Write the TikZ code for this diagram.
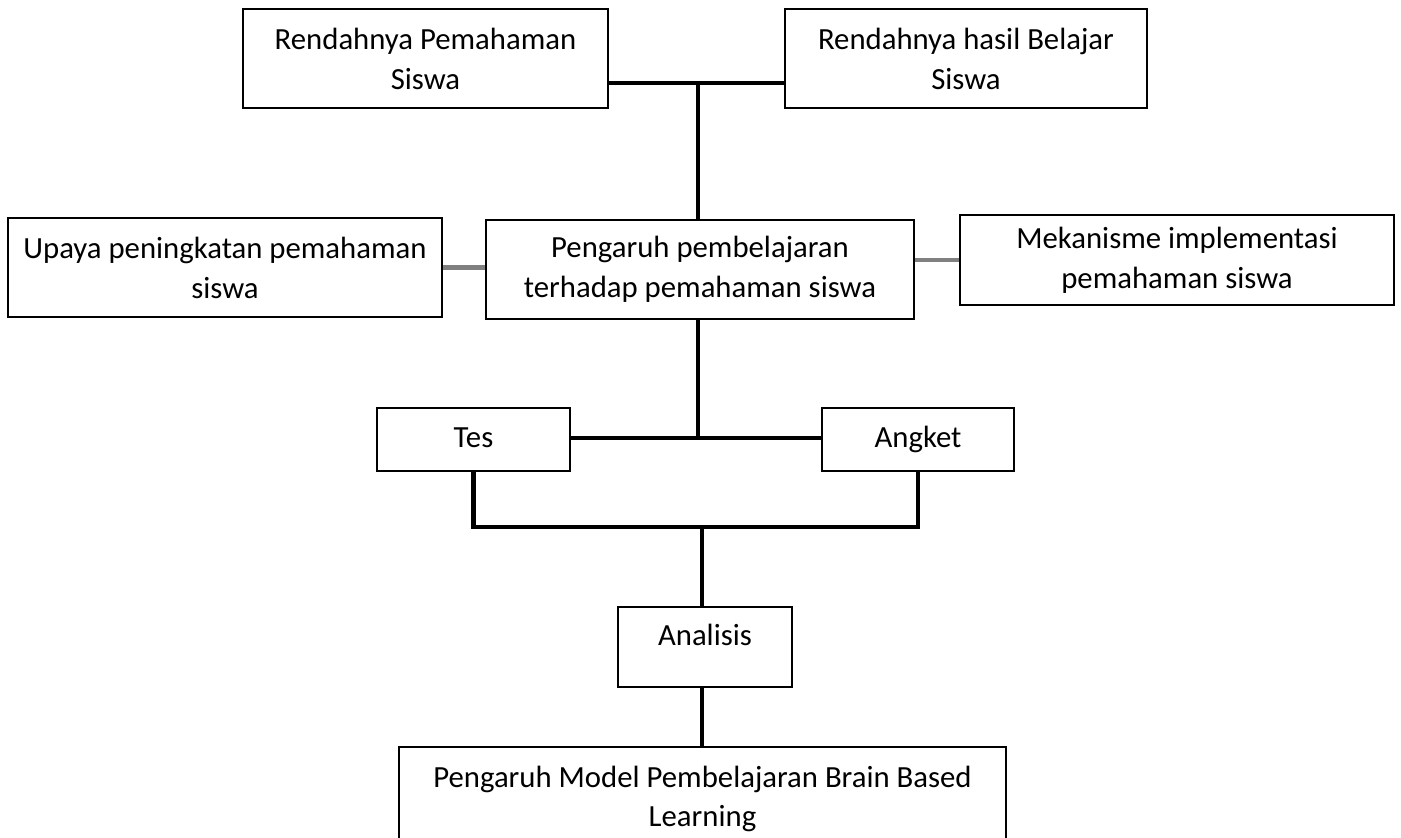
\documentclass[tikz,border=0pt]{standalone}
\usepackage{fontspec}
\setmainfont{Carlito}
\usetikzlibrary{positioning, calc}
\definecolor{lineGray}{gray}{0.5}

\begin{document}
\begin{tikzpicture}[x=0.02cm, y=-0.02cm,
    box/.style={draw, line width=1.1pt, align=center, inner sep=0pt,
        font=\fontsize{17.5}{22.7}\selectfont},
    smallbox/.style={box, minimum height=1.26cm, text height=0.9em, text depth=0pt},
    link/.style={line width=2.3pt},
    sidelink/.style={line width=2.6pt, lineGray}]
    \useasboundingbox (0,0) rectangle (1401,838);

    % top row
    \node[box, minimum width=7.3cm, minimum height=1.98cm] (rendahPaham) at (425.5,58.5) {Rendahnya Pemahaman\\Siswa};
    \node[box, minimum width=7.24cm, minimum height=1.98cm] (rendahHasil) at (966,58.5) {Rendahnya hasil Belajar\\Siswa};

    % middle row
    \node[box, minimum width=8.58cm, minimum height=1.98cm] (pengaruh) at (700,269.5) {Pengaruh pembelajaran\\terhadap pemahaman siswa};
    \node[box, minimum width=8.68cm, minimum height=1.98cm] (upaya) at (225,267.5) {Upaya peningkatan pemahaman\\siswa};
    \node[box, minimum width=8.68cm, minimum height=1.8cm] (mekanisme) at (1177,260) {Mekanisme implementasi\\pemahaman siswa};

    % instruments
    \node[smallbox, minimum width=3.86cm] (tes) at (473.5,439.5) {Tes};
    \node[smallbox, minimum width=3.84cm] (angket) at (918,439.5) {Angket};

    \node[box, anchor=north, minimum width=3.48cm, text height=0.78cm, text depth=0.82cm] (analisis) at (705,606) {Analisis};
    \node[box, minimum width=12.14cm, minimum height=2.08cm] (bbl) at (702.5,799) {Pengaruh Model Pembelajaran Brain Based\\Learning};

    \coordinate (topJoin) at (698,83);
    \coordinate (midJoin) at (698,438);
    \coordinate (lowJoin) at (702,527);

    \draw[link] (rendahPaham.east |- topJoin) -- (rendahHasil.west |- topJoin);
    \draw[link] (topJoin) -- (topJoin |- pengaruh.north);
    \draw[sidelink] (upaya.east) -- (pengaruh.west |- upaya.east);
    \draw[sidelink] (pengaruh.east |- mekanisme.west) -- (mekanisme.west);
    \draw[link] (midJoin |- pengaruh.south) -- (midJoin);
    \draw[link] (tes.east |- midJoin) -- (angket.west |- midJoin);
    \draw[link] (tes.south) |- (lowJoin) -| (angket.south);
    \draw[link] (lowJoin) -- (lowJoin |- analisis.north);
    \draw[link] (lowJoin |- analisis.south) -- (lowJoin |- bbl.north);
\end{tikzpicture}
\end{document}
